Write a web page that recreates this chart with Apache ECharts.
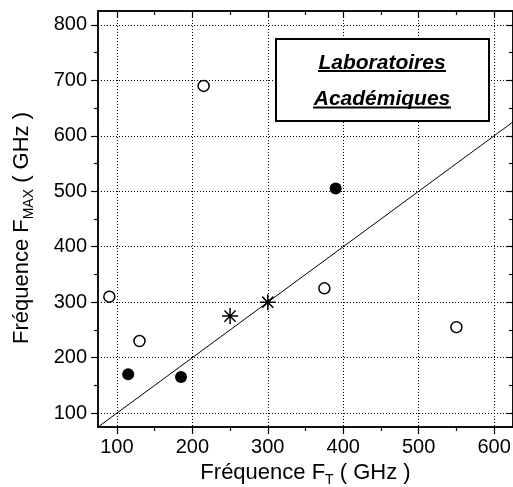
<!DOCTYPE html>
<html>
<head>
<meta charset="utf-8">
<script src="https://cdn.jsdelivr.net/npm/echarts@6/dist/echarts.min.js"></script>
<style>
  html, body { margin: 0; padding: 0; background: #fff; }
  #chart { width: 513px; height: 487px; }
</style>
</head>
<body>
<div id="chart"></div>
<script>
// données
const ftOpen = [90, 130, 215, 375, 550];
const fmaxOpen = [310, 230, 690, 325, 255];
const ftFilled = [115, 185, 390];
const fmaxFilled = [170, 165, 505];
const ftStar = [250, 300];
const fmaxStar = [275, 300];
// droite Fmax = Ft
const diagX = [75, 625];

const xMajor = [100, 200, 300, 400, 500, 600];
const xMinor = [150, 250, 350, 450, 550];
const yMajor = [100, 200, 300, 400, 500, 600, 700, 800];
const yMinor = [150, 250, 350, 450, 550, 650, 750];

const fontFam = "'Liberation Sans', Arial, sans-serif";
const xMin = 75, xMax = 625, yMin = 75, yMax = 825;

const toPts = (xs, ys) => xs.map((x, i) => [x, ys[i]]);

//axe générique : seulement la ligne et les graduations
function axis(pos, min, max, ticks, len, inward, opts) {
    return Object.assign({
        type: 'value',
        position: pos,
        min: min,
        max: max,
        axisLine: { show: true, onZero: false, lineStyle: { color: '#000', width: 1.5 } },
        axisTick: { show: true, inside: inward, length: len, customValues: ticks, lineStyle: { color: '#000', width: 1.2 } },
        axisLabel: { show: false },
        splitLine: { show: false }
    }, opts || {});
}

const labelStyle = { show: true, color: '#000', fontSize: 20, fontFamily: fontFam };
const gridLine = { show: true, lineStyle: { color: '#000', width: 1, type: [1, 2] } };
const nameRich = {
    a: { fontSize: 22, fontFamily: fontFam, color: '#000', lineHeight: 24 },
    s: { fontSize: 14, fontFamily: fontFam, color: '#000', verticalAlign: 'bottom', lineHeight: 28 }
};

const myChart = echarts.init(document.getElementById('chart'), null, { renderer: 'canvas' });

const option = {
    animation: false,
    backgroundColor: '#fff',
    grid: { left: 98, top: 11, right: 0, bottom: 60, containLabel: false, outerBoundsMode: 'none' },
    xAxis: [
        axis('bottom', xMin, xMax, xMajor, 7, false, {
            axisLabel: Object.assign({ customValues: xMajor, margin: 10 }, labelStyle),
            splitLine: Object.assign({}, gridLine),
            name: '{a|Fréquence F}{s|T}{a| ( GHz )}',
            nameLocation: 'middle',
            nameGap: 32,
            nameTextStyle: { rich: nameRich }
        }),
        axis('bottom', xMin, xMax, xMinor, 4, false),
        axis('top', xMin, xMax, xMajor, 7, true),
        axis('top', xMin, xMax, xMinor, 4, true)
    ],
    yAxis: [
        axis('left', yMin, yMax, yMajor, 7, false, {
            axisLabel: Object.assign({ customValues: yMajor, margin: 11 }, labelStyle),
            splitLine: Object.assign({}, gridLine),
            name: '{a|Fréquence F}{s|MAX}{a| ( GHz )}',
            nameLocation: 'middle',
            nameGap: 62,
            nameRotate: 90,
            nameTextStyle: { rich: nameRich, padding: [0, 18, 0, 0] }
        }),
        axis('left', yMin, yMax, yMinor, 4, false),
        axis('right', yMin, yMax, yMajor, 7, true),
        axis('right', yMin, yMax, yMinor, 4, true)
    ],
    series: [
        {
            type: 'line',
            data: toPts(diagX, diagX),
            symbol: 'none',
            lineStyle: { color: '#000', width: 1 },
            z: 3
        },
        {
            type: 'scatter',
            data: toPts(ftOpen, fmaxOpen),
            symbol: 'circle',
            symbolSize: 11,
            itemStyle: { color: '#fff', borderColor: '#000', borderWidth: 1.5, opacity: 1 },
            z: 4
        },
        {
            type: 'scatter',
            data: toPts(ftFilled, fmaxFilled),
            symbol: 'circle',
            symbolSize: 12,
            itemStyle: { color: '#000', opacity: 1 },
            z: 4
        },
        {
            type: 'scatter',
            data: toPts(ftStar, fmaxStar),
            symbol: 'path://M0,-10L0,10M-10,0L10,0M-7,-7L7,7M-7,7L7,-7',
            symbolSize: 16,
            itemStyle: { color: 'none', borderColor: '#000', borderWidth: 1.5, opacity: 1 },
            z: 5
        }
    ],
    //cadre de légende
    graphic: [
        {
            type: 'rect',
            shape: { x: 276, y: 39, width: 213, height: 82 },
            style: { fill: '#fff', stroke: '#000', lineWidth: 2 },
            z: 10
        },
        {
            type: 'text',
            x: 382, y: 63,
            style: { text: 'Laboratoires', font: 'italic bold 21px ' + fontFam, fill: '#000', align: 'center', verticalAlign: 'middle' },
            z: 11
        },
        {
            type: 'line',
            shape: { x1: 318, y1: 71, x2: 446, y2: 71 },
            style: { stroke: '#000', lineWidth: 2 },
            z: 11
        },
        {
            type: 'text',
            x: 382, y: 99,
            style: { text: 'Académiques', font: 'italic bold 21px ' + fontFam, fill: '#000', align: 'center', verticalAlign: 'middle' },
            z: 11
        },
        {
            type: 'line',
            shape: { x1: 313, y1: 107.5, x2: 451, y2: 107.5 },
            style: { stroke: '#000', lineWidth: 2 },
            z: 11
        }
    ]
};

myChart.setOption(option);
</script>
</body>
</html>
